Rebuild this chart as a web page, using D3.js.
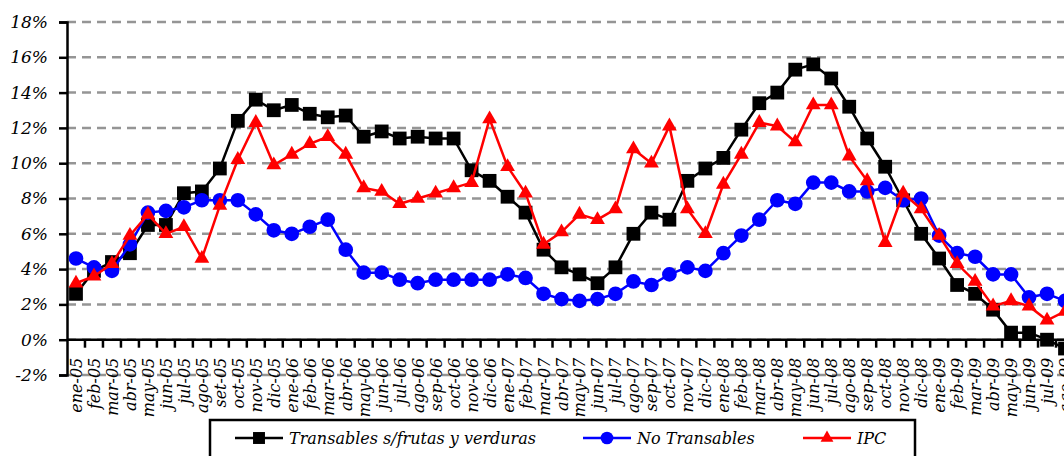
<!DOCTYPE html>
<html>
  <head>
    <meta charset="utf-8">
    <script src="https://d3js.org/d3.v7.min.js"></script>
    <style>
      body { margin: 0; background: #fff; }
    </style>
  </head>
  <body>
    <div id="chart"></div>
    <script>

        // month labels, ene-05 .. ago-09
        const months = [
            'ene-05','feb-05','mar-05','abr-05','may-05','jun-05','jul-05','ago-05','set-05','oct-05','nov-05','dic-05',
            'ene-06','feb-06','mar-06','abr-06','may-06','jun-06','jul-06','ago-06','sep-06','oct-06','nov-06','dic-06',
            'ene-07','feb-07','mar-07','abr-07','may-07','jun-07','jul-07','ago-07','sep-07','oct-07','nov-07','dic-07',
            'ene-08','feb-08','mar-08','abr-08','may-08','jun-08','jul-08','ago-08','sep-08','oct-08','nov-08','dic-08',
            'ene-09','feb-09','mar-09','abr-09','may-09','jun-09','jul-09','ago-09'
        ]

        const transables = [
            2.6, 3.9, 4.4, 4.9, 6.5, 6.5, 8.3, 8.4, 9.7, 12.4, 13.6, 13.0,
            13.3, 12.8, 12.6, 12.7, 11.5, 11.8, 11.4, 11.5, 11.4, 11.4, 9.6, 9.0,
            8.1, 7.2, 5.1, 4.1, 3.7, 3.2, 4.1, 6.0, 7.2, 6.8, 9.0, 9.7,
            10.3, 11.9, 13.4, 14.0, 15.3, 15.6, 14.8, 13.2, 11.4, 9.8, 7.9, 6.0,
            4.6, 3.1, 2.6, 1.7, 0.4, 0.4, 0.0, -0.5
        ]

        const noTransables = [
            4.6, 4.1, 3.9, 5.4, 7.2, 7.3, 7.5, 7.9, 7.9, 7.9, 7.1, 6.2,
            6.0, 6.4, 6.8, 5.1, 3.8, 3.8, 3.4, 3.2, 3.4, 3.4, 3.4, 3.4,
            3.7, 3.5, 2.6, 2.3, 2.2, 2.3, 2.6, 3.3, 3.1, 3.7, 4.1, 3.9,
            4.9, 5.9, 6.8, 7.9, 7.7, 8.9, 8.9, 8.4, 8.4, 8.6, 7.9, 8.0,
            5.9, 4.9, 4.7, 3.7, 3.7, 2.4, 2.6, 2.2
        ]

        const ipc = [
            3.2, 3.6, 4.3, 5.9, 7.1, 6.0, 6.4, 4.6, 7.6, 10.2, 12.3, 9.9,
            10.5, 11.1, 11.5, 10.5, 8.6, 8.4, 7.7, 8.0, 8.3, 8.6, 8.9, 12.5,
            9.8, 8.3, 5.4, 6.1, 7.1, 6.8, 7.4, 10.8, 10.0, 12.1, 7.4, 6.0,
            8.8, 10.5, 12.3, 12.1, 11.2, 13.3, 13.3, 10.4, 9.0, 5.5, 8.3, 7.4,
            5.9, 4.3, 3.3, 1.9, 2.2, 1.9, 1.1, 1.6
        ]

        const yTicks = [-2, 0, 2, 4, 6, 8, 10, 12, 14, 16, 18]

        const seriesNames = ['Transables s/frutas y verduras', 'No Transables', 'IPC']

        const width = 1064, height = 456,
              font = '"DejaVu Serif", serif'

        let svg = d3.select('#chart').append('svg')
            .attr('width', width)
            .attr('height', height)

        let x = d3.scaleBand()
                .domain(months)
                .range([67, 1074]),
            y = d3.scaleLinear()
                .domain([-2, 18])
                .range([375, 22])

        // dashed gridlines
        svg.append('g')
            .selectAll('line')
            .data(yTicks)
            .enter().append('line')
            .attr('x1', 67)
            .attr('x2', 1074)
            .attr('y1', d => y(d))
            .attr('y2', d => y(d))
            .attr('stroke', '#959595')
            .attr('stroke-width', 2.5)
            .attr('stroke-dasharray', '9,6')

        // y axis
        let yAxis = svg.append('g')
            .attr('transform', 'translate(67,0)')
            .call(d3.axisLeft(y).tickValues(yTicks).tickSize(8).tickPadding(11).tickFormat(d => d + '%'))
        yAxis.select('.domain').attr('stroke', '#000').attr('stroke-width', 2.5)
        yAxis.selectAll('.tick line').attr('stroke', '#000').attr('stroke-width', 2.5)
        yAxis.selectAll('.tick text')
            .style('font-family', font)
            .style('font-style', 'italic')
            .style('font-size', '17px')
            .attr('fill', '#000')

        // x axis on the 0% line
        let xAxis = svg.append('g')
            .attr('transform', `translate(0,${y(0)})`)
        xAxis.append('line')
            .attr('x1', 67).attr('x2', 1074)
            .attr('stroke', '#000').attr('stroke-width', 2.5)
        xAxis.selectAll('.xtick')
            .data(months)
            .enter().append('line')
            .attr('class', 'xtick')
            .attr('x1', d => x(d) + x.bandwidth())
            .attr('x2', d => x(d) + x.bandwidth())
            .attr('y1', 0)
            .attr('y2', 8)
            .attr('stroke', '#000').attr('stroke-width', 2.5)
        xAxis.selectAll('.xlabel')
            .data(months)
            .enter().append('text')
            .attr('class', 'xlabel')
            .attr('transform', d => `translate(${x(d) + x.bandwidth() / 2 + 6},18) rotate(-90)`)
            .attr('text-anchor', 'end')
            .style('font-family', font)
            .style('font-style', 'italic')
            .style('font-size', '16px')
            .text(d => d)

        let line = d3.line()
            .x((d, i) => x(months[i]) + x.bandwidth() / 2)
            .y(d => y(d))

        function drawSeries(values, color, marker) {
            let g = svg.append('g')
            g.append('path')
                .datum(values)
                .attr('d', line)
                .attr('fill', 'none')
                .attr('stroke', color)
                .attr('stroke-width', 2.5)
            g.selectAll('path.mk')
                .data(values)
                .enter().append('path')
                .attr('class', 'mk')
                .attr('d', d3.symbol().type(marker.type).size(marker.size))
                .attr('transform', (d, i) => `translate(${x(months[i]) + x.bandwidth() / 2},${y(d)})`)
                .attr('fill', color)
        }

        const markers = [
            { type: d3.symbolSquare, size: 190 },
            { type: d3.symbolCircle, size: 170 },
            { type: d3.symbolTriangle, size: 95 }
        ]
        const colors = ['#000000', '#0000ff', '#ff0000']

        drawSeries(transables, colors[0], markers[0])
        drawSeries(noTransables, colors[1], markers[1])
        drawSeries(ipc, colors[2], markers[2])

        // legend
        let legend = svg.append('g')
        legend.append('rect')
            .attr('x', 210).attr('y', 420)
            .attr('width', 705).attr('height', 60)
            .attr('fill', '#fff')
            .attr('stroke', '#000')
            .attr('stroke-width', 2.5)

        const legendX = [235, 583, 803]
        seriesNames.forEach((name, i) => {
            let lg = legend.append('g').attr('transform', `translate(${legendX[i]},438)`)
            lg.append('line')
                .attr('x1', 0).attr('x2', 48)
                .attr('stroke', colors[i]).attr('stroke-width', 2.5)
            lg.append('path')
                .attr('d', d3.symbol().type(markers[i].type).size(markers[i].size * 0.75))
                .attr('transform', 'translate(24,0)')
                .attr('fill', colors[i])
            lg.append('text')
                .attr('x', 54).attr('y', 6)
                .style('font-family', font)
                .style('font-style', 'italic')
                .style('font-size', '16px')
                .text(name)
        })

    </script>
  </body>
</html>
